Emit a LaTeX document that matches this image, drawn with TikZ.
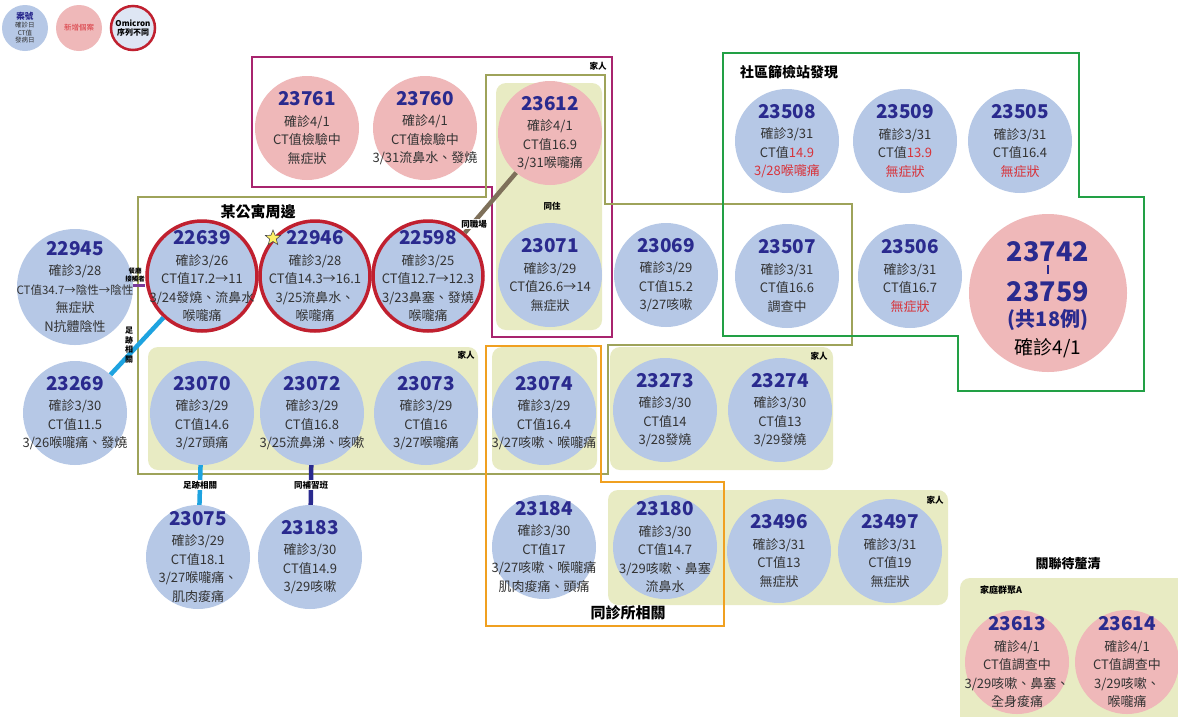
\documentclass[tikz,border=0pt]{standalone}
\usepackage{fontspec}
\setmainfont{Noto Sans CJK TC}
\usetikzlibrary{shapes.geometric}
\definecolor{cblue}{HTML}{B6C8E6}
\definecolor{cpink}{HTML}{EFB8B9}
\definecolor{cred}{HTML}{C0202F}
\definecolor{idc}{HTML}{2A2A8E}
\definecolor{ctext}{HTML}{333333}
\definecolor{tred}{HTML}{D8333A}
\definecolor{olivel}{HTML}{9EA35A}
\definecolor{olivef}{HTML}{E8EBC3}
\definecolor{magl}{HTML}{A8246E}
\definecolor{grnl}{HTML}{22A045}
\definecolor{orgl}{HTML}{F0A020}
\definecolor{zujic}{HTML}{1EA3E0}
\definecolor{purc}{HTML}{7A3A9A}
\definecolor{brnc}{HTML}{7E705A}
\newcommand{\idn}[1]{{\fontsize{19}{21}\selectfont\bfseries\color{idc}#1}}
\newcommand{\rt}[1]{{\color{tred}#1}}
\newcommand{\cnode}[4]{\node[#1] (#2) at (#3) {}; \node[txt] (#2t) at (#2.center) {#4};}
\tikzset{
  circ/.style={circle, inner sep=0pt, minimum size=104pt},
  bc/.style={circ, fill=cblue},
  pc/.style={circ, fill=cpink},
  rc/.style={circ, fill=cblue, draw=cred, line width=3.5pt, minimum size=110pt},
  txt/.style={align=center, inner sep=0pt, text=ctext, font=\fontsize{13}{18.5}\selectfont},
  fbox/.style={fill=olivef, rounded corners=10pt},
  boxline/.style={line width=2.6pt, line join=miter},
  ttl/.style={font=\fontsize{15}{17}\selectfont\bfseries, text=black, inner sep=1pt},
  small/.style={font=\fontsize{8.5}{9.5}\selectfont\bfseries, text=black, inner sep=1pt, align=center},
  conn/.style={line width=4.5pt},
}
\begin{document}
\begin{tikzpicture}[x=1pt,y=-1pt]
\useasboundingbox (0,0) rectangle (1178,716);
\fill[white] (0,0) rectangle (1178,716);
% filled group boxes
\fill[fbox] (496,83) rectangle (602,330);
\fill[fbox] (148,347) rectangle (478,470);
\fill[fbox] (492,347) rectangle (597,470);
\fill[fbox] (610,347) rectangle (833,470);
\fill[fbox] (608,490) rectangle (948,605);
\fill[fbox] (960,578) rectangle (1195,730);
% outline boxes
\draw[boxline, magl] (252,57) -- (612,57) -- (612,337) -- (492,337) -- (492,187) -- (252,187) -- cycle;
\draw[boxline, olivel] (138,197) -- (486,197) -- (486,75) -- (605,75) -- (605,204) -- (852,204) -- (852,345) -- (608,345) -- (608,474) -- (138,474) -- cycle;
\draw[boxline, orgl] (486,346) -- (601,346) -- (601,482) -- (724,482) -- (724,626) -- (486,626) -- cycle;
\draw[boxline, grnl] (723,53) -- (1079,53) -- (1079,197) -- (1144,197) -- (1144,391) -- (958,391) -- (958,336) -- (723,336) -- cycle;
% legend
\node[bc, minimum size=46pt] (lg1) at (25,28) {};
\node[txt, font=\fontsize{6.5}{7.6}\selectfont] (lg1t) at (lg1.center) {{\fontsize{8.5}{9}\selectfont\bfseries\color{idc}案號}\\確診日\\CT值\\發病日};
\node[pc, minimum size=46pt] (lg2) at (79,28) {};
\node[txt, font=\fontsize{7.5}{8}\selectfont, text=tred] (lg2t) at (lg2.center) {新增個案};
\node[circ, fill=cblue!45!white, draw=cred, line width=2.5pt, minimum size=44pt] (lg3) at (133,28) {};
\node[txt, font=\fontsize{8}{9.5}\selectfont\bfseries, text=black] (lg3t) at (lg3.center) {Omicron\\序列不同};
% top pink cases
\cnode{pc}{n23761}{307,128}{\idn{23761}\\[2pt]確診4/1\\CT值檢驗中\\無症狀}
\cnode{pc}{n23760}{425,128}{\idn{23760}\\[2pt]確診4/1\\CT值檢驗中\\3/31流鼻水、發燒}
\cnode{pc}{n23612}{550,133}{\idn{23612}\\[2pt]確診4/1\\CT值16.9\\3/31喉嚨痛}
\cnode{bc}{n23071}{550,275}{\idn{23071}\\[2pt]確診3/29\\CT值26.6→14\\無症狀}
% 某公寓周邊
\cnode{bc, minimum size=116pt}{n22945}{75,287}{\idn{22945}\\[2pt]確診3/28\\{\fontsize{11.5}{18.5}\selectfont CT值34.7→陰性→陰性}\\無症狀\\N抗體陰性}
\cnode{rc}{n22639}{202,276}{\idn{22639}\\[2pt]確診3/26\\CT值17.2→11\\3/24發燒、流鼻水\\喉嚨痛}
\cnode{rc}{n22946}{315,276}{\idn{22946}\\[2pt]確診3/28\\CT值14.3→16.1\\3/25流鼻水、\\喉嚨痛}
\cnode{rc}{n22598}{428,276}{\idn{22598}\\[2pt]確診3/25\\CT值12.7→12.3\\3/23鼻塞、發燒\\喉嚨痛}
\cnode{bc}{n23069}{666,275}{\idn{23069}\\[2pt]確診3/29\\CT值15.2\\3/27咳嗽}
% community screening
\cnode{bc}{n23508}{787,141}{\idn{23508}\\[2pt]確診3/31\\CT值\rt{14.9}\\\rt{3/28喉嚨痛}}
\cnode{bc}{n23509}{905,141}{\idn{23509}\\[2pt]確診3/31\\CT值\rt{13.9}\\\rt{無症狀}}
\cnode{bc}{n23505}{1020,141}{\idn{23505}\\[2pt]確診3/31\\CT值16.4\\\rt{無症狀}}
\cnode{bc}{n23507}{787,276}{\idn{23507}\\[2pt]確診3/31\\CT值16.6\\調查中}
\cnode{bc}{n23506}{910,276}{\idn{23506}\\[2pt]確診3/31\\CT值16.7\\\rt{無症狀}}
\node[pc, minimum size=158pt] (n23742) at (1048,293) {};
\node[inner sep=0pt, font=\fontsize{27}{28}\selectfont\bfseries, text=idc] (n23742a) at (1048,252) {23742};
\fill[idc] (1046.8,265) rectangle (1049.2,274);
\node[inner sep=0pt, font=\fontsize{27}{28}\selectfont\bfseries, text=idc] (n23742b) at (1048,292) {23759};
\node[inner sep=0pt, font=\fontsize{20}{22}\selectfont\bfseries, text=idc] (n23742c) at (1048,320) {(共18例)};
\node[inner sep=0pt, font=\fontsize{19}{21}\selectfont, text=black] (n23742d) at (1048,348) {確診4/1};
% second row
\cnode{bc}{n23269}{75,413}{\idn{23269}\\[2pt]確診3/30\\CT值11.5\\3/26喉嚨痛、發燒}
\cnode{bc}{n23070}{202,413}{\idn{23070}\\[2pt]確診3/29\\CT值14.6\\3/27頭痛}
\cnode{bc}{n23072}{312,413}{\idn{23072}\\[2pt]確診3/29\\CT值16.8\\3/25流鼻涕、咳嗽}
\cnode{bc}{n23073}{426,413}{\idn{23073}\\[2pt]確診3/29\\CT值16\\3/27喉嚨痛}
\cnode{bc}{n23074}{544,413}{\idn{23074}\\[2pt]確診3/29\\CT值16.4\\3/27咳嗽、喉嚨痛}
\cnode{bc}{n23273}{665,410}{\idn{23273}\\[2pt]確診3/30\\CT值14\\3/28發燒}
\cnode{bc}{n23274}{780,410}{\idn{23274}\\[2pt]確診3/30\\CT值13\\3/29發燒}
% third row
\cnode{bc}{n23075}{198,557}{\idn{23075}\\[2pt]確診3/29\\CT值18.1\\3/27喉嚨痛、\\肌肉痠痛}
\cnode{bc}{n23183}{310,557}{\idn{23183}\\[2pt]確診3/30\\CT值14.9\\3/29咳嗽}
\cnode{bc}{n23184}{544,547}{\idn{23184}\\[2pt]確診3/30\\CT值17\\3/27咳嗽、喉嚨痛\\肌肉痠痛、頭痛}
\cnode{bc}{n23180}{665,547}{\idn{23180}\\[2pt]確診3/30\\CT值14.7\\3/29咳嗽、鼻塞\\流鼻水}
\cnode{bc}{n23496}{779,551}{\idn{23496}\\[2pt]確診3/31\\CT值13\\無症狀}
\cnode{bc}{n23497}{890,551}{\idn{23497}\\[2pt]確診3/31\\CT值19\\無症狀}
\cnode{pc}{n23613}{1017,662}{\idn{23613}\\[2pt]確診4/1\\CT值調查中\\3/29咳嗽、鼻塞、\\全身痠痛}
\cnode{pc}{n23614}{1127,662}{\idn{23614}\\[2pt]確診4/1\\CT值調查中\\3/29咳嗽、\\喉嚨痛}
% connectors
\draw[conn, purc, line width=3pt] (n22945.east |- 0,285) -- (n22639.west |- 0,285);
\node[small, font=\fontsize{6.5}{7.5}\selectfont\bfseries] (lbcan) at (135,275) {餐廳\\接觸者};
\draw[conn, zujic] (n22639) -- (n23269);
\node[small, font=\fontsize{8}{9.5}\selectfont\bfseries] (lbzj1) at (129,345) {足\\跡\\相\\關};
\draw[conn, brnc] (n23612) -- (n22598);
\node[small, fill=white] (lbzc) at (474,224) {同職場};
\draw[conn, zujic] (n23070) -- node[small, fill=white] (lbzj2) {足跡相關} (n23075);
\draw[conn, idc] (n23072) -- node[small, fill=white] (lbbx) {同補習班} (n23183);
% labels
\node[star, star points=5, star point ratio=2.3, fill=yellow!90!orange!60, draw=black!70, line width=0.6pt, minimum size=16pt, inner sep=0pt] (star) at (273,238) {};
\node[ttl] (t1) at (258,212) {某公寓周邊};
\node[ttl, font=\fontsize{14}{16}\selectfont\bfseries] (t2) at (789,72) {社區篩檢站發現};
\node[ttl] (t3) at (628,613) {同診所相關};
\node[ttl, font=\fontsize{13}{15}\selectfont\bfseries] (t4) at (1068,564) {關聯待釐清};
\node[small, font=\fontsize{9}{10}\selectfont\bfseries] (t5) at (1001,590) {家庭群聚A};
\node[small] (jr1) at (598,66) {家人};
\node[small] (jr2) at (466,355) {家人};
\node[small] (jr3) at (819,356) {家人};
\node[small] (jr4) at (935,500) {家人};
\node[small] (tz) at (552,206) {同住};
\end{tikzpicture}
\end{document}
